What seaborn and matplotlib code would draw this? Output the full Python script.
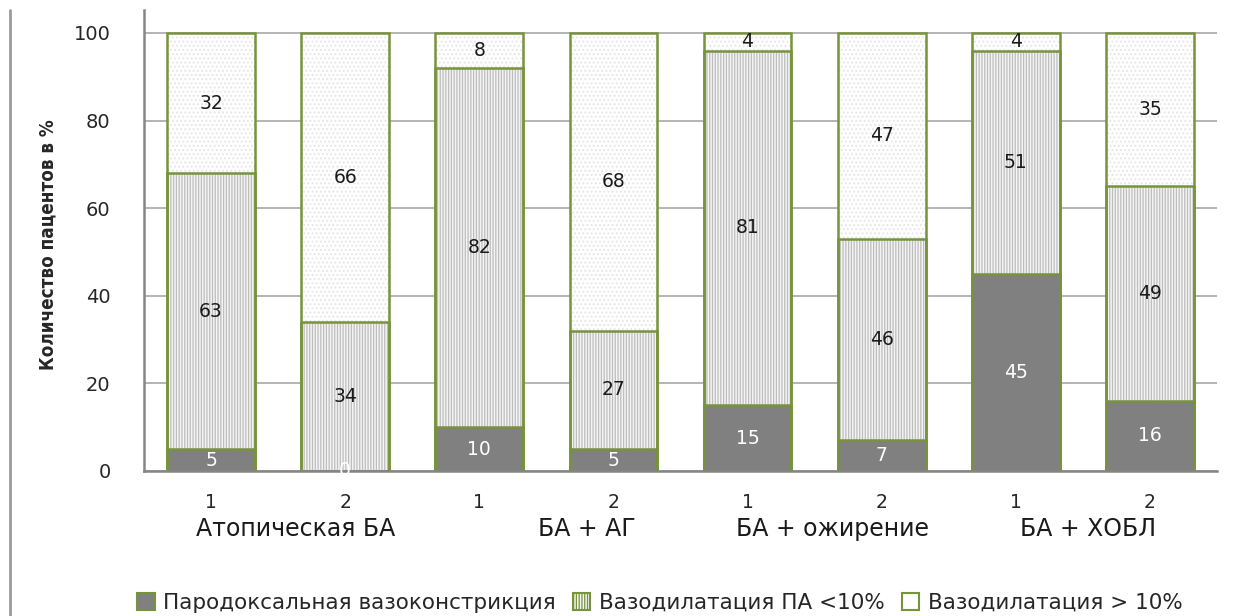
import numpy as np
import pandas as pd
import matplotlib
matplotlib.use("Agg")
import matplotlib.pyplot as plt
import matplotlib.patches as mpatches
from matplotlib.lines import Line2D
import seaborn as sns

# ---- data ----
groups = ["Атопическая БА", "БА + АГ", "БА + ожирение", "БА + ХОБЛ"]
sub_labels = ["1", "2", "1", "2", "1", "2", "1", "2"]
paradox = [5, 0, 10, 5, 15, 7, 45, 16]
vaso_lt10 = [63, 34, 82, 27, 81, 46, 51, 49]
vaso_gt10 = [32, 66, 8, 68, 4, 47, 4, 35]
series_names = ["Пародоксальная вазоконстрикция", "Вазодилатация ПА <10%", "Вазодилатация > 10%"]
yticks = [0, 20, 40, 60, 80, 100]

sns.set_theme(style="white")
plt.rcParams['font.family'] = ['DejaVu Sans']
plt.rcParams['hatch.linewidth'] = 0.9

bar_ids = [f"b{i}" for i in range(len(paradox))]
df = pd.DataFrame({
    "bar": bar_ids,
    "p": paradox,
    "v1": vaso_lt10,
    "v2": vaso_gt10,
})
df["c1"] = df["p"]
df["c2"] = df["p"] + df["v1"]
df["c3"] = df["p"] + df["v1"] + df["v2"]

green = "#77933C"
dark = "#808080"

fig = plt.figure(figsize=(12.37, 6.16), dpi=100)
ax = fig.add_axes([144/1237, 1-471/616, (1217-144)/1237, (471-10)/616])

W = 0.655
# top segment (total) - white with faint dots
sns.barplot(data=df, x="bar", y="c3", order=bar_ids, color="white", width=W,
            edgecolor="#e6e6e6", linewidth=0, hatch="....", ax=ax, zorder=2)
# middle segment - vertical stripes
sns.barplot(data=df, x="bar", y="c2", order=bar_ids, color="#f4f4f4", width=W,
            edgecolor="#bdbdbd", linewidth=0, hatch="||||||", ax=ax, zorder=3)
# bottom segment - dark gray
sns.barplot(data=df, x="bar", y="c1", order=bar_ids, color=dark, width=W,
            linewidth=0, ax=ax, zorder=4)
# green outlines
for col in ["c3", "c2", "c1"]:
    sns.barplot(data=df, x="bar", y=col, order=bar_ids, fill=False, width=W,
                edgecolor=green, linewidth=1.8, ax=ax, zorder=5)

ax.set_xlim(-0.5, len(bar_ids) - 0.5)
ax.set_ylim(0, 105.25)
ax.set_yticks(yticks)
ax.set_yticklabels([str(t) for t in yticks], fontsize=14)
ax.set_xticks(range(len(bar_ids)))
ax.set_xticklabels(sub_labels, fontsize=13.5)
ax.tick_params(axis="x", length=0, pad=16)
ax.tick_params(axis="y", length=0, pad=24)
ax.set_xlabel("")
ax.set_ylabel("")
for t in yticks:
    ax.axhline(t, color="#a8a8a8", linewidth=1.2, zorder=1)
for s in ["top", "right"]:
    ax.spines[s].set_visible(False)
ax.spines["left"].set_color("#858585")
ax.spines["left"].set_linewidth(1.8)
ax.spines["bottom"].set_color("#858585")
ax.spines["bottom"].set_linewidth(1.8)
ax.spines["bottom"].set_zorder(6)

# value labels
for i in range(len(bar_ids)):
    p, v1, v2 = paradox[i], vaso_lt10[i], vaso_gt10[i]
    ax.text(i, p / 2, str(p), ha="center", va="center", color="white", fontsize=13.5, zorder=7)
    ax.text(i, p + v1 / 2, str(v1), ha="center", va="center", color="#1a1a1a", fontsize=13.5, zorder=7)
    ax.text(i, p + v1 + v2 / 2, str(v2), ha="center", va="center", color="#1a1a1a", fontsize=13.5, zorder=7)

# group labels
group_pos = [0.63, 2.80, 4.63, 6.54]
for g, xp in zip(groups, group_pos):
    ax.text(xp, -13.3, g, ha="center", va="center", fontsize=17, color="#1a1a1a",
            transform=ax.transData, clip_on=False)

# y label
fig.text(48/1237, 1-245/616, "Количество пацентов в %", rotation=90, ha="center", va="center",
         fontsize=13.5, fontweight="bold", family=["DejaVu Sans"], fontstretch="condensed")

# left frame line
fig.add_artist(Line2D([10/1237, 10/1237], [0, 1-10/616], transform=fig.transFigure,
                      color="#9a9a9a", linewidth=2))

# legend
handles = [
    mpatches.Patch(facecolor=dark, edgecolor=green, linewidth=1.5),
    mpatches.Patch(facecolor="#f4f4f4", edgecolor=green, linewidth=1.5, hatch="||||||"),
    mpatches.Patch(facecolor="white", edgecolor=green, linewidth=1.5),
]
fig.legend(handles, series_names, loc="center", bbox_to_anchor=(660/1237, 1-603/616), ncol=3,
           frameon=False, fontsize=15.5, handlelength=0.8, handleheight=0.8,
           handletextpad=0.4, columnspacing=0.8, borderaxespad=0)

fig.savefig("out.png", dpi=100)
